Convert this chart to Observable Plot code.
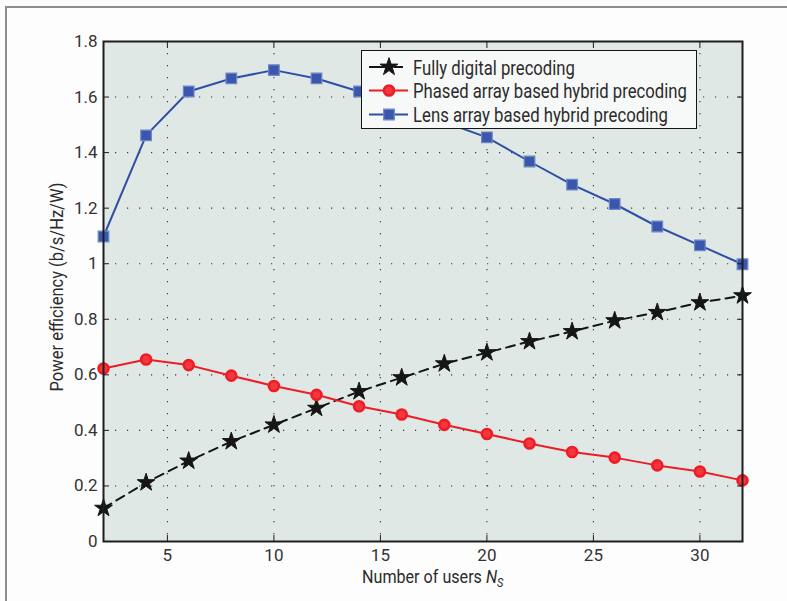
<!DOCTYPE html>
<html><head><meta charset="utf-8">
<script src="https://cdn.jsdelivr.net/npm/d3@7"></script>
<script src="https://cdn.jsdelivr.net/npm/@observablehq/plot@0.6"></script>
<style>
html,body{margin:0;padding:0;background:#fdfdfd;}
#wrap{position:relative;width:787px;height:601px;overflow:hidden;font-family:Roboto,sans-serif;}
#border{position:absolute;left:5px;top:6px;right:-10px;bottom:-10px;border-left:2px solid #8e8e8e;border-top:2px solid #8e8e8e;}
#chart{position:absolute;left:0;top:0;}
#legend{position:absolute;left:361px;top:50px;width:334px;height:77px;border:1.6px solid #151515;background:#f7f9f8;}
</style></head>
<body><div id="wrap"><div id="border"></div><div id="chart"></div><div id="legend"></div></div>
<script>
const users = [2,4,6,8,10,12,14,16,18,20,22,24,26,28,30,32];
const fullyDigital = [0.12,0.212,0.29,0.36,0.42,0.48,0.54,0.59,0.64,0.68,0.72,0.756,0.795,0.825,0.86,0.885];
const phasedArray = [0.623,0.655,0.635,0.597,0.56,0.528,0.487,0.457,0.42,0.387,0.353,0.322,0.302,0.274,0.252,0.22];
const lensArray = [1.098,1.462,1.62,1.667,1.697,1.667,1.62,1.565,1.51,1.455,1.368,1.285,1.215,1.134,1.066,0.998];
const seriesNames = ["Fully digital precoding","Phased array based hybrid precoding","Lens array based hybrid precoding"];
const xTicks = [5,10,15,20,25,30];
const yTicks = [0,0.2,0.4,0.6,0.8,1,1.2,1.4,1.6,1.8];
const yTickLabels = ["0","0.2","0.4","0.6","0.8","1","1.2","1.4","1.6","1.8"];
const xLabel = "Number of users ";
const yLabel = "Power efficiency (b/s/Hz/W)";

const mk = (vals) => users.map((u,i) => ({x:u, y:vals[i]}));
const dFull = mk(fullyDigital), dPhased = mk(phasedArray), dLens = mk(lensArray);

const black = "#151515", red = "#ee1c25", blue = "#2f4fa6";
const gridStyle = {stroke:"#222", strokeOpacity:0.9, strokeWidth:1.1, strokeDasharray:"1.2,10.8"};

const plot = Plot.plot({
  width:787, height:601,
  marginLeft:103, marginRight:45, marginTop:41, marginBottom:60,
  style:{background:"transparent", fontFamily:"Roboto, sans-serif", fontSize:"17px", color:"#333"},
  x:{domain:[2,32]},
  y:{domain:[0,1.8]},
  marks:[
    Plot.frame({fill:"#dfe8e5"}),
    Plot.gridX(xTicks, gridStyle),
    Plot.gridY(yTicks.slice(1,-1), gridStyle),
    Plot.line(dFull, {x:"x", y:"y", stroke:black, strokeWidth:2, strokeDasharray:"9,6"}),
    Plot.dot(dFull, {x:"x", y:"y", symbol:"star", r:5.6, fill:black, stroke:black, strokeWidth:1}),
    Plot.line(dPhased, {x:"x", y:"y", stroke:red, strokeWidth:2}),
    Plot.dot(dPhased, {x:"x", y:"y", symbol:"circle", r:5, fill:"#f0383e", stroke:red, strokeWidth:2.6}),
    Plot.line(dLens, {x:"x", y:"y", stroke:blue, strokeWidth:2}),
    Plot.dot(dLens, {x:"x", y:"y", symbol:"square", r:6, fill:"#3a57ad", stroke:"#7088c6", strokeWidth:1.2}),
    Plot.frame({stroke:"#1e1e1e", strokeWidth:2}),
    Plot.axisX({ticks:xTicks, tickSize:0, tickPadding:7, label:null, fill:"#333", fontSize:17}),
    Plot.axisY({ticks:yTicks, tickSize:0, tickPadding:6, label:null, tickFormat:(d)=>yTickLabels[yTicks.indexOf(d)], fill:"#333", fontSize:17}),
    Plot.axisX({ticks:xTicks, anchor:"bottom", tickSize:-6, tickFormat:()=>"", label:null, stroke:"#1e1e1e"}),
    Plot.axisX({ticks:xTicks, anchor:"top", tickSize:-6, tickFormat:()=>"", label:null, stroke:"#1e1e1e"}),
    Plot.axisY({ticks:yTicks, anchor:"left", tickSize:-6, tickFormat:()=>"", label:null, stroke:"#1e1e1e"}),
    Plot.axisY({ticks:yTicks, anchor:"right", tickSize:-6, tickFormat:()=>"", label:null, stroke:"#1e1e1e"})
  ]
});
document.getElementById("chart").appendChild(plot);

// squeeze a text horizontally (in its own frame) to a target width
function squeeze(textSel, target) {
  const w = textSel.node().getComputedTextLength ? textSel.node().getBBox().width : target;
  return w > 0 ? target / w : 1;
}

const svg = d3.select(plot);
const xg = svg.append("g");
const xl = xg.append("text").attr("x",0).attr("y",0).attr("text-anchor","start")
  .attr("font-size",19).attr("fill","#2b2b2b").attr("font-family","Roboto, sans-serif");
xl.append("tspan").text(xLabel);
xl.append("tspan").attr("font-style","italic").text("N");
xl.append("tspan").attr("font-style","italic").attr("font-size",13).attr("dy",4).text("S");
const sx = squeeze(xl, 142);
xg.attr("transform",`translate(362,583) scale(${sx},1)`);

const yg = svg.append("g");
const yl = yg.append("text").attr("text-anchor","middle")
  .attr("font-size",19).attr("fill","#2b2b2b").attr("font-family","Roboto, sans-serif").text(yLabel);
const sy = squeeze(yl, 209);
yg.attr("transform",`translate(63,287) rotate(-90) scale(${sy},1)`);

// legend
const lg = d3.select("#legend").append("svg").attr("width",334).attr("height",77)
  .style("font-family","Roboto, sans-serif");
const rows = [
  {name:seriesNames[0], y:16, color:black, dash:"20,5,9", widthT:162, sym:d3.symbolStar, size:Math.PI*5.6*5.6, fill:black, stroke:black, sw:1},
  {name:seriesNames[1], y:39.5, color:red, dash:null, widthT:274, sym:d3.symbolCircle, size:Math.PI*25, fill:"#f0383e", stroke:red, sw:2.6},
  {name:seriesNames[2], y:63.5, color:blue, dash:null, widthT:255, sym:d3.symbolSquare, size:Math.PI*36, fill:"#3a57ad", stroke:"#7088c6", sw:1.2}
];
rows.forEach(r => {
  const ln = lg.append("line").attr("x1",7).attr("x2",46).attr("y1",r.y).attr("y2",r.y)
    .attr("stroke",r.color).attr("stroke-width",2);
  if (r.dash) ln.attr("stroke-dasharray",r.dash);
  lg.append("path").attr("d",d3.symbol(r.sym,r.size)()).attr("transform",`translate(27,${r.y})`)
    .attr("fill",r.fill).attr("stroke",r.stroke).attr("stroke-width",r.sw);
  const g = lg.append("g");
  const t = g.append("text").attr("x",0).attr("y",0).attr("dy","0.36em").attr("font-size",21)
    .attr("fill","#2b2b2b").text(r.name);
  const s = squeeze(t, r.widthT);
  g.attr("transform",`translate(51,${r.y}) scale(${s},1)`);
});
</script>
</body></html>
